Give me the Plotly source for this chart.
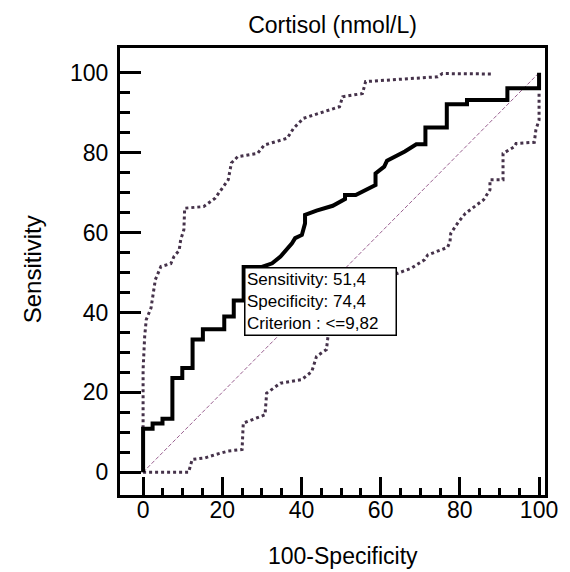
import plotly.graph_objects as go

# ROC curve vertices (100-Specificity, Sensitivity)
roc_x = [0, 0, 2.4, 2.4, 4.9, 4.9, 7.4, 7.4, 9.9, 9.9, 12.5, 12.5, 15.1, 15.1, 20.5, 20.5,
         22.9, 22.9, 25.4, 25.4, 25.4, 30.0, 32.6, 34.7, 37.6, 38.4, 40.1, 40.9, 40.9, 43.8,
         47.9, 51.0, 51.0, 53.7, 58.7, 58.7, 60.9, 61.6, 63.6, 66.1, 69.0, 71.3, 71.3, 76.7,
         76.7, 81.8, 81.8, 92.0, 92.0, 100, 100]
roc_y = [0, 10.9, 10.9, 12.2, 12.2, 13.4, 13.4, 23.6, 23.6, 26.1, 26.1, 33.2, 33.2, 35.8, 35.8, 39.0,
         39.0, 43.0, 43.0, 44.2, 51.4, 51.4, 52.3, 54.0, 57.3, 58.6, 59.4, 62.3, 64.4, 65.5,
         66.7, 68.4, 69.4, 69.4, 71.9, 74.8, 76.5, 78.0, 79.0, 80.3, 82.1, 82.1, 86.3, 86.3,
         92.1, 92.1, 93.2, 93.2, 96.1, 96.1, 100]

# upper 95% confidence bound
up_x = [0, 0, 0.4, 0.8, 2.0, 3.1, 4.5, 7.0, 7.8, 9.1, 9.5, 10.3, 10.5, 15.3, 18.2, 21.5, 22.3,
        23.9, 28.9, 30.6, 36.4, 38.0, 40.5, 49.6, 50.4, 55.4, 56.2, 62.8, 74.4, 75.6, 88.0]
up_y = [11.0, 25.7, 34.0, 38.2, 41.1, 48.2, 51.5, 52.2, 54.0, 55.5, 58.2, 60.7, 66.1, 66.5, 68.6,
        73.2, 77.4, 79.0, 79.8, 81.9, 83.6, 86.1, 88.6, 91.5, 94.0, 94.8, 97.8, 98.2, 99.0, 99.8, 99.7]

# lower 95% confidence bound
lo_x = [0, 11.5, 12.4, 15.7, 18.2, 21.5, 25.0, 25.3, 28.5, 30.8, 31.2, 34.7, 40.1, 42.6, 43.8,
        46.3, 46.7, 63.2, 67.8, 71.1, 71.9, 76.9, 77.5, 77.7, 79.6, 81.4, 86.0, 87.6, 87.6, 90.9,
        90.9, 93.8, 94.2, 98.8, 99.2, 100, 100]
lo_y = [0, 0, 3.2, 3.6, 4.4, 5.3, 5.7, 12.3, 13.5, 14.4, 19.8, 22.3, 23.2, 25.2, 29.0,
        30.7, 34.0, 49.4, 51.1, 53.2, 54.4, 56.3, 57.7, 59.8, 62.6, 64.8, 68.2, 70.7, 73.2, 73.2,
        79.8, 81.5, 82.3, 82.6, 85.7, 88.2, 94.8]

diag = [0, 100]
ticks_major = [0, 20, 40, 60, 80, 100]
ticks_minor = [v for v in range(5, 100, 5) if v % 20 != 0]

crit_x, crit_y = 25.6, 51.4
box_text = "Sensitivity: 51,4<br>Specificity: 74,4<br>Criterion : &lt;=9,82"

FONT = "Liberation Sans, Arial, sans-serif"

fig = go.Figure()
fig.add_trace(go.Scatter(x=diag, y=diag, mode="lines",
                         line=dict(color="#9a6090", width=1, dash="4px,2px"),
                         hoverinfo="skip"))
fig.add_trace(go.Scatter(x=up_x, y=up_y, mode="lines",
                         line=dict(color="#45324a", width=3, dash="dot"), hoverinfo="skip"))
fig.add_trace(go.Scatter(x=lo_x, y=lo_y, mode="lines",
                         line=dict(color="#45324a", width=3, dash="dot"), hoverinfo="skip"))
fig.add_trace(go.Scatter(x=roc_x, y=roc_y, mode="lines",
                         line=dict(color="black", width=4), hoverinfo="skip"))

L, R, T, B = 120, 17.5, 48, 76.5
pw = 570 - L - R
ph = 572 - T - B

fig.add_annotation(x=crit_x, y=crit_y, xref="x", yref="y", text=box_text,
                   showarrow=False, xanchor="left", yanchor="top", align="left",
                   bgcolor="white", bordercolor="black", borderwidth=1.5, borderpad=1.5,
                   width=147, font=dict(family=FONT, size=17, color="black"))

# axis titles
fig.add_annotation(x=(347 - L) / pw, y=(572 - B - 557) / ph, xref="paper", yref="paper",
                   text="100-Specificity", showarrow=False, xanchor="center", yanchor="middle",
                   font=dict(family=FONT, size=23, color="black"))
fig.add_annotation(x=(31 - L) / pw, y=(572 - B - 270) / ph, xref="paper", yref="paper",
                   text="Sensitivity", showarrow=False, xanchor="center", yanchor="middle",
                   textangle=-90, font=dict(family=FONT, size=24, color="black"))

axis_common = dict(showgrid=False, zeroline=False, showline=True, linecolor="black",
                   linewidth=3, mirror=True, ticks="inside", tickwidth=3, tickcolor="black",
                   tickvals=ticks_major, tickfont=dict(family=FONT, size=23, color="black"))

fig.update_layout(
    width=570, height=572,
    margin=dict(l=L, r=R, t=T, b=B),
    paper_bgcolor="white", plot_bgcolor="white",
    showlegend=False,
    title=dict(text="Cortisol (nmol/L)", x=0.5, xref="paper", xanchor="center",
               y=1 - 25 / 572, yref="container", yanchor="middle",
               font=dict(family=FONT, size=23, color="black")),
    xaxis=dict(range=[-5.83, 101.5], ticklen=18, ticklabelstandoff=-8,
               minor=dict(ticks="inside", tickvals=ticks_minor, ticklen=7, tickwidth=3,
                          tickcolor="black"),
               **axis_common),
    yaxis=dict(range=[-5.7, 106.2], ticklen=21, ticklabelstandoff=4,
               minor=dict(ticks="inside", tickvals=ticks_minor, ticklen=10, tickwidth=3,
                          tickcolor="black"),
               **axis_common),
)

fig.write_html("out.html", config={"displayModeBar": False},
               post_script="document.body.style.margin='0px';")
